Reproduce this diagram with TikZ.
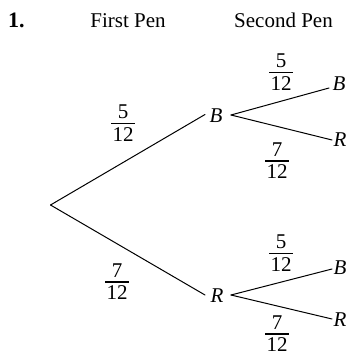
\documentclass[tikz,border=0pt]{standalone}
\usepackage{fontspec}
\setmainfont{Liberation Serif}
\newcommand\myfr[2]{\vbox{\halign{\hfil\hskip1.2pt##\hskip1.2pt\hfil\cr #1\cr\noalign{\kern3.6pt\hrule height1.8pt\kern2.8pt}#2\cr}}}
\tikzset{
  txt/.style={inner sep=0pt, font=\fontsize{21}{25}\selectfont},
  lab/.style={inner sep=0pt, font=\fontsize{21}{25}\selectfont\itshape},
  fracnode/.style={inner sep=0pt, font=\fontsize{21}{25}\selectfont},
  branch/.style={line width=1pt, line cap=round}
}
\begin{document}
\begin{tikzpicture}[x=1pt,y=-1pt]
\useasboundingbox (0,0) rectangle (350,358);
% headers
\node[txt, anchor=base west, font=\fontsize{22}{26}\selectfont\bfseries] (num) at (8,27.5) {1.};
\node[txt, anchor=base] (h1) at (128,27.5) {First Pen};
\node[txt, anchor=base] (h2) at (283.5,27.5) {Second Pen};
% nodes
\coordinate (root) at (50.5,205);
\node[lab] (B1) at (216,116) {B};
\coordinate (b1in) at (205,114.5);
\coordinate (b1out) at (231,115);
\node[lab] (R1) at (217,296) {R};
\coordinate (r1in) at (205,295);
\coordinate (r1out) at (231,295);
\node[lab] (BB) at (339,84) {B};
\coordinate (bbin) at (329,88);
\node[lab] (BR) at (340,140) {R};
\coordinate (brin) at (332,140);
\node[lab] (RB) at (340,268) {B};
\coordinate (rbin) at (332,269);
\node[lab] (RR) at (340,320) {R};
\coordinate (rrin) at (332,319);
% branches
\draw[branch] (root) -- (b1in);
\draw[branch] (root) -- (r1in);
\draw[branch] (b1out) -- (bbin);
\draw[branch] (b1out) -- (brin);
\draw[branch] (r1out) -- (rbin);
\draw[branch] (r1out) -- (rrin);
% probabilities
\node[fracnode] (f1) at (123,123) {\myfr{5}{12}};
\node[fracnode] (f2) at (117,282) {\myfr{7}{12}};
\node[fracnode] (f3) at (281,72) {\myfr{5}{12}};
\node[fracnode] (f4) at (277,161) {\myfr{7}{12}};
\node[fracnode] (f5) at (281,253) {\myfr{5}{12}};
\node[fracnode] (f6) at (277,334) {\myfr{7}{12}};
\end{tikzpicture}
\end{document}
